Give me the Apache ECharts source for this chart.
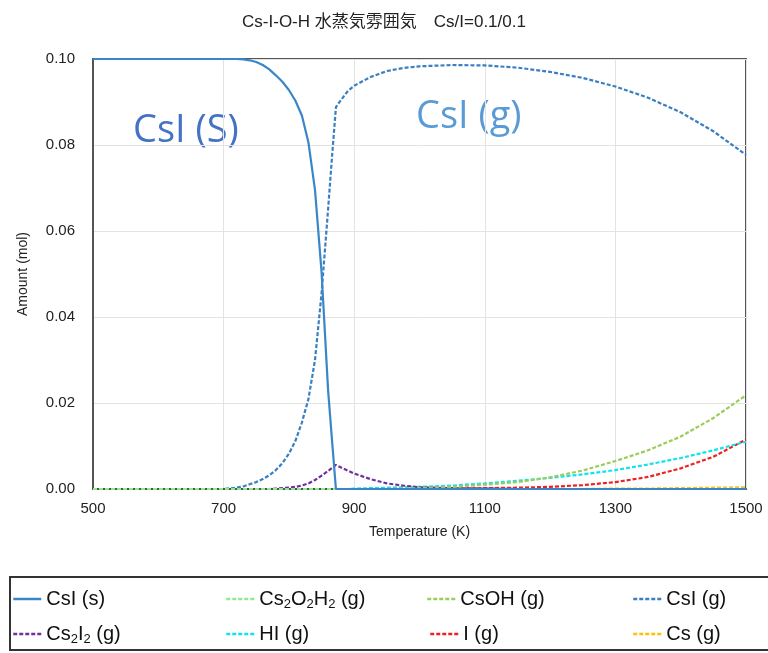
<!DOCTYPE html>
<html><head><meta charset="utf-8">
<script src="https://cdn.jsdelivr.net/npm/echarts@6/dist/echarts.min.js"></script>
<style>html,body{margin:0;padding:0;background:#fff}#c{width:768px;height:653px}</style>
</head><body><div id="c"></div>
<script>
var temps = [500,600,700,720,730,740,750,760,770,780,790,800,810,820,830,840,850,860,866,872,880,890,900,925,950,975,1000,1050,1100,1150,1200,1250,1300,1350,1400,1450,1500];
var csiS   = [0.1,0.1,0.1,0.1,0.0999,0.0997,0.0993,0.0986,0.0976,0.0962,0.0947,0.0928,0.0903,0.0868,0.0805,0.0695,0.0505,0.0230,0.0114,0,0,0,0,0,0,0,0,0,0,0,0,0,0,0,0,0,0];
var csiG   = [0,0,0,0.0003,0.0006,0.0011,0.0016,0.0023,0.0032,0.0044,0.0060,0.0082,0.0112,0.0155,0.0210,0.0300,0.0455,0.0650,0.0772,0.0888,0.0905,0.0925,0.0938,0.0958,0.0972,0.0979,0.0983,0.0986,0.0985,0.0980,0.0970,0.0956,0.0936,0.0910,0.0876,0.0832,0.0777];
var cs2i2  = [0,0,0,0,0,0,0,0,0,0.0001,0.0002,0.0003,0.0005,0.0008,0.0013,0.0021,0.0031,0.0042,0.0049,0.0056,0.0050,0.0043,0.0036,0.0023,0.0013,0.0008,0.0004,0.0002,0.0001,0,0,0,0,0,0,0,0];
var csoh   = [0,0,0,0,0,0,0,0,0,0,0,0,0,0,0,0,0,0,0,0,0,0,0,0,0,0.0001,0.0002,0.0005,0.0010,0.0016,0.0027,0.0043,0.0065,0.0090,0.0122,0.0165,0.0218];
var hi     = [0,0,0,0,0,0,0,0,0,0,0,0,0,0,0,0,0,0,0,0,0,0,0.0001,0.0002,0.0003,0.0004,0.0005,0.0008,0.0013,0.0019,0.0026,0.0034,0.0044,0.0057,0.0072,0.0090,0.0110];
var iG     = [0,0,0,0,0,0,0,0,0,0,0,0,0,0,0,0,0,0,0,0,0,0,0,0,0,0,0,0.0001,0.0002,0.0003,0.0005,0.0009,0.0016,0.0028,0.0048,0.0075,0.0115];
var cs2o2h2= [0,0,0,0,0,0,0,0,0,0,0,0,0,0,0,0,0,0,0,0,0,0,0,0,0,0,0,0,0,0,0,0,0,0,0,0,0.0001];
var csG    = [0,0,0,0,0,0,0,0,0,0,0,0,0,0,0,0,0,0,0,0,0,0,0,0,0,0,0,0,0,0,0,0,0.0001,0.0001,0.0002,0.0003,0.0004];
var xTicks = [500,700,900,1100,1300,1500];
var yTicks = [0,0.02,0.04,0.06,0.08,0.10];

function pairs(v){ return temps.map(function(t,i){ return [t, v[i]]; }); }

var seriesDefs = [
  {name:'CsI (s)', data:csiS, color:'#3a86c8', dash:'solid'},
  {name:'Cs2O2H2 (g)', data:cs2o2h2, color:'#8fe98f', dash:[4,2]},
  {name:'CsOH (g)', data:csoh, color:'#9acd5a', dash:[4,2]},
  {name:'CsI (g)', data:csiG, color:'#3b7fc0', dash:[4,2]},
  {name:'Cs2I2 (g)', data:cs2i2, color:'#7030a0', dash:[4,2]},
  {name:'HI (g)', data:hi, color:'#11e3ec', dash:[4,2]},
  {name:'I (g)', data:iG, color:'#f02020', dash:[4,2]},
  {name:'Cs (g)', data:csG, color:'#ffc000', dash:[4,2]}
];

var fmtMap = {
  'Cs2O2H2 (g)': '{n|Cs}{s|2}{n|O}{s|2}{n|H}{s|2}{n| (g)}',
  'Cs2I2 (g)': '{n|Cs}{s|2}{n|I}{s|2}{n| (g)}'
};
function legendOf(name, left, top){
  return {
    left:left, top:top, itemWidth:28, itemHeight:14, padding:0,
    data:[name], itemStyle:{opacity:0}, lineStyle:{width:2.5},
    formatter:function(n){ return fmtMap[n] || ('{n|'+n+'}'); },
    textStyle:{ rich:{ n:{fontSize:20, lineHeight:24, color:'#111', fontFamily:'Liberation Sans'}, s:{fontSize:13, lineHeight:24, verticalAlign:'bottom', color:'#111', fontFamily:'Liberation Sans'} } }
  };
}

var chart = echarts.init(document.getElementById('c'), null, {renderer:'canvas'});
chart.setOption({
  animation:false,
  backgroundColor:'#fff',
  title:{ text:'Cs-I-O-H 水蒸気雰囲気　Cs/I=0.1/0.1', left:'center', top:9, textStyle:{fontSize:17, fontWeight:'normal', color:'#222', fontFamily:'Liberation Sans, Noto Sans CJK JP'} },
  grid:{ left:93, right:22, top:59, bottom:164, show:true, borderColor:'#555', borderWidth:2 },
  legend:[
    legendOf('CsI (s)', 12, 589),
    legendOf('Cs2I2 (g)', 12, 624),
    legendOf('Cs2O2H2 (g)', 225, 589),
    legendOf('HI (g)', 225, 624),
    legendOf('CsOH (g)', 426, 589),
    legendOf('I (g)', 429, 624),
    legendOf('CsI (g)', 632, 589),
    legendOf('Cs (g)', 632, 624)
  ],
  xAxis:{ type:'value', min:500, max:1500, interval:200,
    name:'Temperature (K)', nameLocation:'middle', nameGap:36,
    nameTextStyle:{fontSize:14, color:'#222', fontFamily:'Liberation Sans'},
    axisLine:{lineStyle:{color:'#555', width:2}}, axisTick:{show:false},
    axisLabel:{fontSize:15, color:'#222', margin:12, fontFamily:'Liberation Sans', formatter:function(v){return String(v);}},
    splitLine:{lineStyle:{color:'#e3e3e3', width:1}} },
  yAxis:{ type:'value', min:0, max:0.1, interval:0.02,
    name:'Amount (mol)', nameLocation:'middle', nameGap:63, nameRotate:90,
    nameTextStyle:{fontSize:14, color:'#222', fontFamily:'Liberation Sans'},
    axisLine:{show:true, lineStyle:{color:'#555', width:2}}, axisTick:{show:false},
    axisLabel:{fontSize:15, color:'#222', margin:18, fontFamily:'Liberation Sans', formatter:function(v){return v.toFixed(2);}},
    splitLine:{lineStyle:{color:'#e3e3e3', width:1}} },
  series: seriesDefs.slice().reverse().map(function(s){
    return { name:s.name, type:'line', data:pairs(s.data), showSymbol:false, symbol:'none',
      lineStyle:{color:s.color, width:2.2, type:s.dash}, itemStyle:{color:s.color} };
  }),
  graphic:[
    { type:'rect', shape:{x:10, y:577, width:780, height:73}, style:{fill:'none', stroke:'#333', lineWidth:2}, z:-1 },
    { type:'text', left:133, top:112, style:{text:'CsI (S)', fontSize:38, fill:'#4472c4', fontFamily:'Open Sans'} },
    { type:'text', left:416, top:98, style:{text:'CsI (g)', fontSize:38, fill:'#5b9bd5', fontFamily:'Open Sans'} }
  ]
});
</script></body></html>
